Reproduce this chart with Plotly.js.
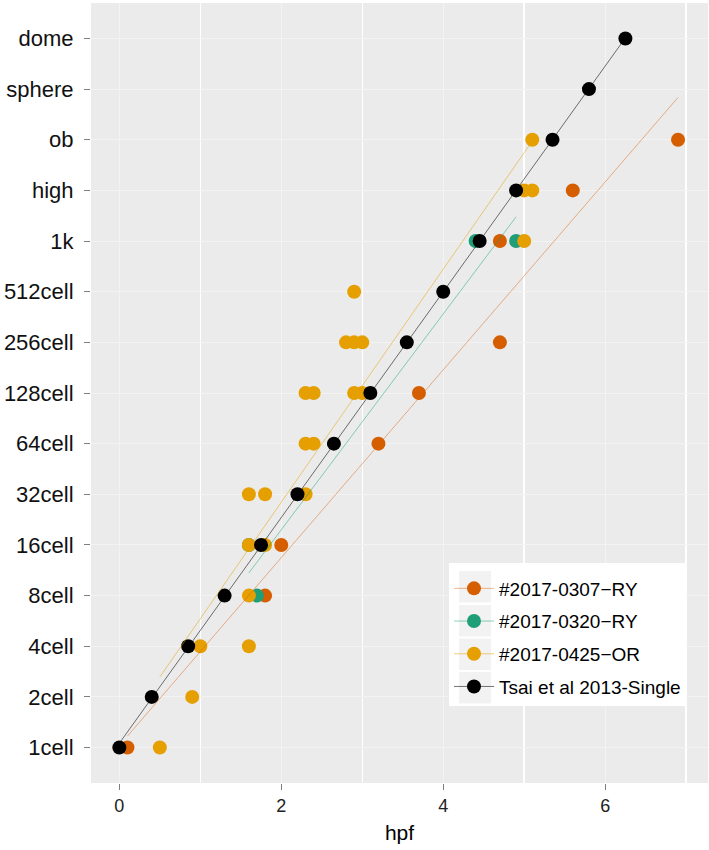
<!DOCTYPE html>
<html>
<head>
<meta charset="utf-8">
<script src="https://cdn.plot.ly/plotly-3.0.1.min.js"></script>
<style>html,body{margin:0;padding:0;background:#fff;}#chart{width:709px;height:850px;}</style>
</head>
<body>
<div id="chart"></div>
<script>
// Stage order (y axis, bottom to top)
const stages = ['1cell','2cell','4cell','8cell','16cell','32cell','64cell','128cell','256cell','512cell','1k','high','ob','sphere','dome'];
const xTicks = [0, 2, 4, 6];

// #2017-0307-RY
const ryA_hpf   = [0.1, 1.8, 2.0, 3.2, 3.7, 4.7, 4.7, 5.6, 6.9];
const ryA_stage = ['1cell','8cell','16cell','64cell','128cell','256cell','1k','high','ob'];

// #2017-0320-RY
const ryB_hpf   = [1.6, 1.7, 4.4, 4.9];
const ryB_stage = ['16cell','8cell','1k','1k'];

// #2017-0425-OR
const or_hpf   = [0.5, 0.9, 1.0, 1.6, 1.6, 1.6, 1.8, 1.6, 1.8, 2.3, 2.3, 2.4, 2.3, 2.4, 2.9, 3.0, 2.8, 2.9, 3.0, 2.9, 5.0, 5.0, 5.1, 5.1];
const or_stage = ['1cell','2cell','4cell','4cell','8cell','16cell','16cell','32cell','32cell','32cell','64cell','64cell','128cell','128cell','128cell','128cell','256cell','256cell','256cell','512cell','1k','high','high','ob'];

// Tsai et al 2013-Single
const tsai_hpf   = [0, 0.4, 0.85, 1.3, 1.75, 2.2, 2.65, 3.1, 3.55, 4.0, 4.45, 4.9, 5.35, 5.8, 6.25];
const tsai_stage = stages.slice();

const groups = [
  {name:'#2017-0307\u2212RY', hpf:ryA_hpf, stage:ryA_stage, color:'#D55E00', line:'rgba(213,94,0,0.45)'},
  {name:'#2017-0320\u2212RY', hpf:ryB_hpf, stage:ryB_stage, color:'#1F9E77', line:'rgba(0,158,115,0.45)'},
  {name:'#2017-0425\u2212OR', hpf:or_hpf, stage:or_stage, color:'#E69F00', line:'rgba(230,159,0,0.5)'},
  {name:'Tsai et al 2013-Single', hpf:tsai_hpf, stage:tsai_stage, color:'#000000', line:'rgba(0,0,0,0.55)'}
];

function idx(s){ return stages.indexOf(s); }

// least-squares fit of stage index on hpf, drawn over the group's hpf range
function lmFit(xs, ys){
  const n = xs.length;
  const mx = xs.reduce((a,b)=>a+b,0)/n;
  const my = ys.reduce((a,b)=>a+b,0)/n;
  let sxx=0, sxy=0;
  for(let i=0;i<n;i++){ sxx += (xs[i]-mx)*(xs[i]-mx); sxy += (xs[i]-mx)*(ys[i]-my); }
  const b = sxy/sxx;
  const x0 = Math.min(...xs), x1 = Math.max(...xs);
  return {x:[x0,x1], y:[my + b*(x0-mx), my + b*(x1-mx)]};
}

const traces = [];
groups.forEach((g, k) => {
  const ys = g.stage.map(idx);
  // interleave nulls so the legend key shows line+dot but points stay unconnected
  const px = [], py = [];
  g.hpf.forEach((v,i)=>{ px.push(v, null); py.push(ys[i], null); });
  traces.push({
    type:'scatter', mode:'lines+markers', x:px, y:py, name:g.name,
    legendgroup:'g'+k, connectgaps:false,
    marker:{color:g.color, size:14},
    line:{color:g.line, width:1},
    hoverinfo:'skip'
  });
});
groups.forEach((g, k) => {
  const f = lmFit(g.hpf, g.stage.map(idx));
  traces.push({
    type:'scatter', mode:'lines', x:f.x, y:f.y, legendgroup:'g'+k, showlegend:false,
    line:{color:g.line, width:1}, hoverinfo:'skip'
  });
});

// page geometry (px) for the legend backdrop and key boxes
const M = {l:91, r:1, t:3, b:67}, W = 709, H = 850;
const pw = W - M.l - M.r, ph = H - M.t - M.b;
const px2 = v => (v - M.l) / pw;
const py2 = v => (H - M.b - v) / ph;
const shapes = [
  {type:'rect', xref:'paper', yref:'paper', layer:'above',
   x0:px2(449), x1:px2(686), y0:py2(706), y1:py2(563),
   fillcolor:'#ffffff', line:{width:0}}
];
[571, 605, 638.5, 672].forEach(top => {
  shapes.push({type:'rect', xref:'paper', yref:'paper', layer:'above',
    x0:px2(459), x1:px2(491), y0:py2(top+31.5), y1:py2(top),
    fillcolor:'#F2F2F2', line:{width:0}});
});

const layout = {
  width:W, height:H,
  margin:M,
  paper_bgcolor:'#ffffff', plot_bgcolor:'#EBEBEB',
  font:{family:'"Liberation Sans", Arial, sans-serif', color:'#1a1a1a'},
  showlegend:true,
  shapes:shapes,
  legend:{
    x:px2(449), y:py2(569.5), xanchor:'left', yanchor:'top',
    bgcolor:'rgba(0,0,0,0)', borderwidth:0,
    font:{size:19, color:'#000'},
    traceorder:'grouped', tracegroupgap:5, itemwidth:40
  },
  xaxis:{
    range:[-0.35, 7.27], tickmode:'array', tickvals:xTicks, ticktext:xTicks.map(String),
    showgrid:true, gridcolor:'#F3F3F3', gridwidth:1, zeroline:false, showline:false,
    ticks:'outside', ticklen:6, tickcolor:'#7f7f7f', tickwidth:1,
    tickfont:{size:18, color:'#222'},
    minor:{tickmode:'linear', tick0:1, dtick:2, showgrid:true, gridcolor:'#ffffff', gridwidth:1.5, ticks:''},
    title:{text:'hpf', font:{size:21, color:'#000'}, standoff:10}
  },
  yaxis:{
    range:[-0.7, 14.7], tickmode:'array', tickvals:stages.map((s,i)=>i), ticktext:stages,
    showgrid:true, gridcolor:'#F3F3F3', gridwidth:1, zeroline:false, showline:false,
    ticks:'outside', ticklen:6, tickcolor:'#7f7f7f', tickwidth:1,
    tickfont:{size:22, color:'#111'}, ticklabelstandoff:6
  }
};

Plotly.newPlot('chart', traces, layout, {displayModeBar:false, staticPlot:true});
</script>
</body>
</html>
